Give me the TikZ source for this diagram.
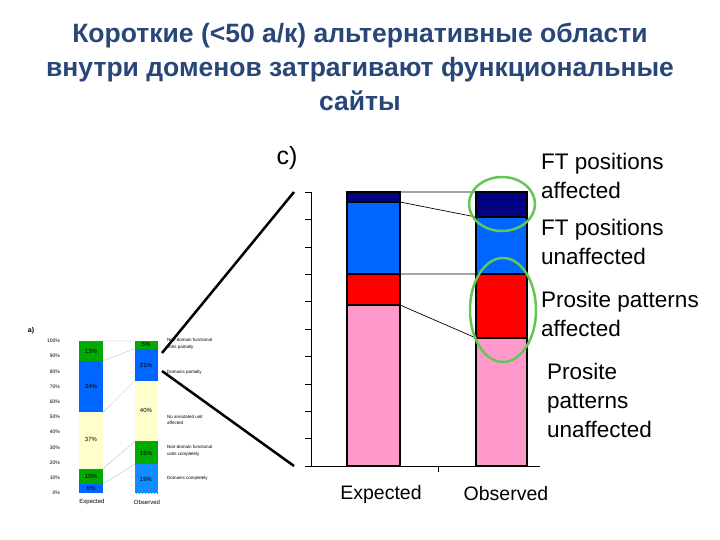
\documentclass[tikz,border=0pt]{standalone}
\usepackage{fontspec}
\setmainfont{Liberation Sans}
\usetikzlibrary{patterns}
\definecolor{navy}{RGB}{0,0,128}
\definecolor{blu}{RGB}{0,102,255}
\definecolor{pnk}{RGB}{255,153,204}
\definecolor{grn}{RGB}{0,170,0}
\definecolor{ylw}{RGB}{255,255,204}
\definecolor{ell}{RGB}{100,200,80}
\definecolor{ttl}{RGB}{40,70,120}
\begin{document}
\begin{tikzpicture}[x=1pt,y=-1pt,
 seg/.style={draw=black,line width=1.2pt},
 sseg/.style={draw=gray!60,line width=0.3pt},
 lbl/.style={anchor=north west,align=left,font=\fontsize{22.5}{29}\selectfont,inner sep=0pt},
 slbl/.style={anchor=west,align=left,font=\fontsize{4.5}{6.5}\selectfont,inner sep=0pt},
 tick/.style={font=\fontsize{5}{6}\selectfont,anchor=east,inner sep=0pt},
 pct/.style={font=\fontsize{6}{7}\selectfont,inner sep=0pt}]
\useasboundingbox (0,0) rectangle (720,540);
\node[align=center,font=\bfseries\fontsize{26.5}{34}\selectfont,text=ttl] (title) at (360,67)
 {Короткие (<50 а/к) альтернативные области\\внутри доменов затрагивают функциональные\\сайты};
\node[font=\fontsize{25}{26}\selectfont] (c) at (287,158) {c)};
% big chart axes
\draw (311,192) -- (311,466) -- (540,466);
\foreach \i in {0,...,10} \draw (305,{192+27.4*\i}) -- (311,{192+27.4*\i});
\draw (438,466) -- (438,472);
% expected bar
\fill[navy] (347,192) rectangle (400,202);
\fill[blu] (347,202) rectangle (400,274);
\fill[red] (347,274) rectangle (400,305);
\fill[pnk] (347,305) rectangle (400,466);
\draw[seg] (347,192) rectangle (400,466) (347,202)--(400,202) (347,274)--(400,274) (347,305)--(400,305);
% observed bar
\fill[navy] (476,192) rectangle (527,217);
\fill[blu] (476,217) rectangle (527,274);
\fill[red] (476,274) rectangle (527,338);
\fill[pnk] (476,338) rectangle (527,466);
\draw[seg] (476,192) rectangle (527,466) (476,217)--(527,217) (476,274)--(527,274) (476,338)--(527,338);
\draw[line width=0.7pt] (400,192)--(476,192) (400,202)--(476,217) (400,274)--(476,274) (400,305)--(476,338);
\draw[ell,line width=2.5pt] (502,204) ellipse (33 and 27);
\draw[ell,line width=2.5pt] (503,310) ellipse (33 and 52);
\node[lbl] (l1) at (541,153) {FT positions\\affected};
\node[lbl] (l2) at (541,219) {FT positions\\unaffected};
\node[lbl] (l3) at (541,291) {Prosite patterns\\affected};
\node[lbl] (l4) at (547,363) {Prosite\\patterns\\unaffected};
\node[font=\fontsize{19.5}{20}\selectfont] (xe) at (381,494) {Expected};
\node[font=\fontsize{19.5}{20}\selectfont] (xo) at (506,494) {Observed};
% small chart
\node[font=\bfseries\fontsize{7}{7}\selectfont] (a) at (31,331) {a)};
\foreach \p in {0,10,...,100} \node[tick] at (60,{493-1.52*\p}) {\p\%};
\def\yy#1{493-1.52*#1}
\fill[blu] (79,{\yy{0}}) rectangle (103,{\yy{6}});
\fill[grn] (79,{\yy{6}}) rectangle (103,{\yy{16}});
\fill[ylw] (79,{\yy{16}}) rectangle (103,{\yy{53}});
\fill[blu] (79,{\yy{53}}) rectangle (103,{\yy{87}});
\fill[grn] (79,{\yy{87}}) rectangle (103,{\yy{100}});
\fill[blu!70!cyan] (135,{\yy{0}}) rectangle (158,{\yy{19}});
\fill[pattern=crosshatch dots,pattern color=blue!60] (135,{\yy{0}}) rectangle (158,{\yy{19}});
\fill[grn] (135,{\yy{19}}) rectangle (158,{\yy{34}});
\fill[ylw] (135,{\yy{34}}) rectangle (158,{\yy{74}});
\fill[blu] (135,{\yy{74}}) rectangle (158,{\yy{95}});
\fill[grn] (135,{\yy{95}}) rectangle (158,{\yy{100}});
\draw[sseg] (79,{\yy{100}})--(135,{\yy{100}}) (103,{\yy{87}})--(135,{\yy{95}}) (103,{\yy{53}})--(135,{\yy{74}}) (103,{\yy{16}})--(135,{\yy{34}}) (103,{\yy{6}})--(135,{\yy{19}});
\node[pct] at (91,{\yy{3}}) {6\%};
\node[pct] at (91,{\yy{11}}) {10\%};
\node[pct] at (91,{\yy{35}}) {37\%};
\node[pct] at (91,{\yy{70}}) {34\%};
\node[pct] at (91,{\yy{93}}) {13\%};
\node[pct] at (146,{\yy{9}}) {19\%};
\node[pct] at (146,{\yy{26}}) {15\%};
\node[pct] at (146,{\yy{54}}) {40\%};
\node[pct] at (146,{\yy{84}}) {21\%};
\node[pct] at (146,{\yy{97.5}}) {5\%};
\node[slbl] at (167,344) {Non-domain functional\\units partially};
\node[slbl] at (167,372) {Domains partially};
\node[slbl] at (167,420) {No annotated unit\\affected};
\node[slbl] at (167,451) {Non-domain functional\\units completely};
\node[slbl] at (167,478) {Domains completely};
\node[pct] at (92,502) {Expected};
\node[pct] at (147,502) {Observed};
\coordinate (s1) at (162,353); \coordinate (t1) at (294,192);
\coordinate (s2) at (162,371); \coordinate (t2) at (294,466);
\draw[line width=2.5pt] (s1)--(t1) (s2)--(t2);
\end{tikzpicture}
\end{document}
